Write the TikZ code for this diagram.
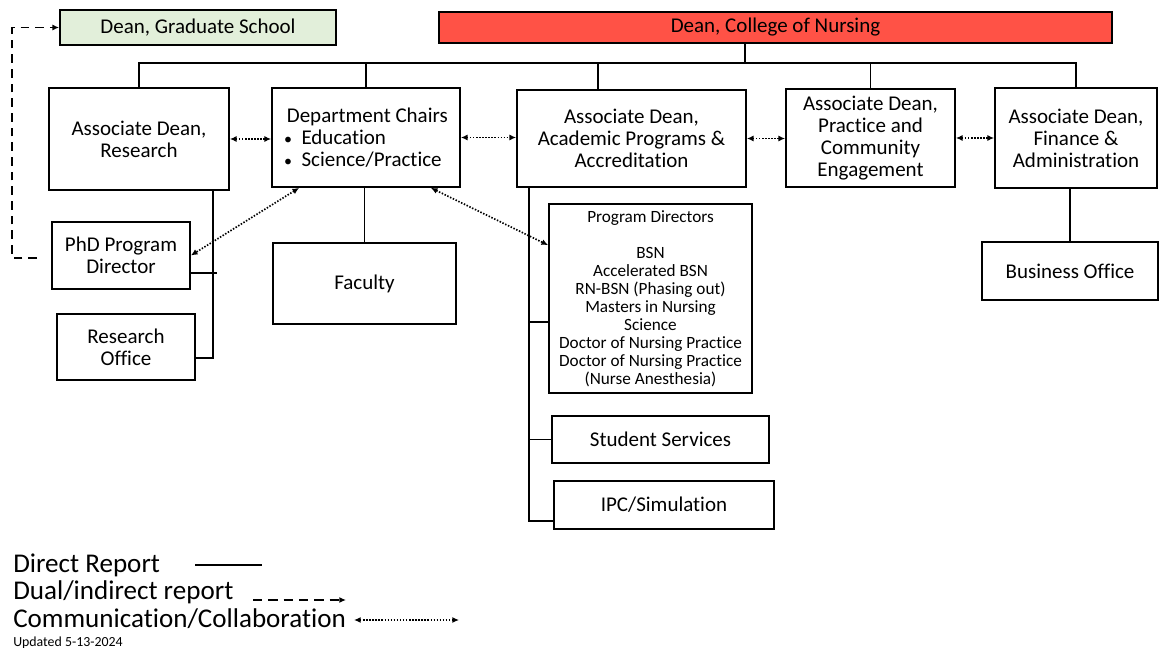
\documentclass[tikz,border=0pt]{standalone}
\usepackage{fontspec}
\setmainfont[Ligatures=NoCommon]{Carlito}
\usetikzlibrary{arrows.meta,positioning}
\definecolor{deanred}{RGB}{255,82,70}
\definecolor{gradgreen}{RGB}{226,239,218}
\newcommand{\chairbullet}{{\fontsize{12}{12}\selectfont\textbullet}\hspace{7pt}}

\begin{document}
\begin{tikzpicture}[
    x=0.75pt, y=-0.75pt,
    unit/.style={draw, line width=1.3pt, align=center, inner sep=2pt, font=\fontsize{15.75}{16.5}\selectfont},
    progbox/.style={unit, font=\fontsize{12.9}{13.5}\selectfont},
    direct/.style={line width=1.3pt},
    indirect/.style={line width=1.3pt, dash pattern=on 6.5pt off 4.5pt, -{Latex[length=5pt,width=4.5pt]}},
    collab/.style={line width=1.25pt, dash pattern=on 1.1pt off 1.2pt, {Latex[length=5pt,width=4.5pt]}-{Latex[length=5pt,width=4.5pt]}},
    legend/.style={anchor=base west, inner sep=0pt, font=\fontsize{20.3}{24}\selectfont}
]
\useasboundingbox (0,0) rectangle (1159,648);

% top level
\node[unit, fill=gradgreen, minimum width=207pt, minimum height=26.25pt] (grad) at (198,27.5) {Dean, Graduate School};
\node[unit, fill=deanred, minimum width=504.75pt, minimum height=23.25pt] (dean) at (775.5,27.5) {Dean, College of Nursing};

% associate deans and chairs
\node[unit, minimum width=135pt, minimum height=76.5pt] (adr) at (139,139) {Associate Dean,\\Research};
\node[unit, align=left, minimum width=141pt, minimum height=74.25pt] (dc) at (366,137.5)
    {\hspace{2pt}Department Chairs\\\chairbullet Education\\\chairbullet Science/Practice};
\node[unit, minimum width=171.75pt, minimum height=72.75pt] (adap) at (631.5,138.5) {Associate Dean,\\Academic Programs \&\\Accreditation};
\node[unit, minimum width=126.75pt, minimum height=73.5pt] (adpce) at (870.5,138) {Associate Dean,\\Practice and\\Community\\Engagement};
\node[unit, minimum width=121.5pt, minimum height=75pt] (adfa) at (1076,138) {Associate Dean,\\Finance \&\\Administration};

% units below
\node[unit, minimum width=103.5pt, minimum height=50.25pt] (phd) at (121,255.5) {PhD Program\\Director};
\node[unit, minimum width=103.5pt, minimum height=49.5pt] (resoff) at (126,347) {Research\\Office};
\node[unit, minimum width=137.25pt, minimum height=60.75pt] (faculty) at (364.5,283.5) {Faculty};
\node[progbox, minimum width=152.25pt, minimum height=141.75pt] (progdir) at (650.5,298.5)
    {Program Directors\\[13.5pt]BSN\\Accelerated BSN\\RN-BSN (Phasing out)\\Masters in Nursing\\Science\\Doctor of Nursing Practice\\Doctor of Nursing Practice\\(Nurse Anesthesia)};
\node[unit, minimum width=162.75pt, minimum height=35.25pt] (stusvc) at (660.5,439.5) {Student Services};
\node[unit, minimum width=165pt, minimum height=36pt] (ipc) at (664,505) {IPC/Simulation};
\node[unit, minimum width=132pt, minimum height=43.5pt] (busoff) at (1070,271) {Business Office};

% direct reports
\coordinate (bus) at (745,63);
\draw[direct] (dean.south -| bus) -- (bus);
\draw[direct] (adr.north) -- (adr.north |- bus) -- (adfa.north |- bus) -- (adfa.north);
\foreach \n in {dc,adpce}
    \draw[direct] (\n.north) -- (\n.north |- bus);
\draw[direct] ([xshift=-25pt]adap.north) -- ++(0,-27);

\coordinate (rjoin) at ([xshift=55.5pt]adr.south);
\draw[direct] (rjoin) |- ([yshift=-8pt]resoff.east);
\draw[direct] ([yshift=-13pt]phd.east) -- ++(26,0);
\draw[direct] (faculty.north) -- (faculty.north |- dc.south);

\coordinate (ajoin) at ([xshift=9.75pt]adap.south west);
\draw[direct] (ajoin) |- ([yshift=-12pt]ipc.west);
\draw[direct] (stusvc.west) -- (stusvc.west -| ajoin);
\draw[direct] ([yshift=-17.6pt]progdir.west) -- ++(-19,0);
\draw[direct] (busoff.north) -- (busoff.north |- adfa.south);

% communication
\draw[collab] (adr.east) -- (adr.east -| dc.west);
\draw[collab] (dc.east) -- (dc.east -| adap.west);
\draw[collab] (adap.east) -- (adap.east -| adpce.west);
\draw[collab] (adpce.east) -- (adpce.east -| adfa.west);
\draw[collab] ([xshift=21pt]dc.south west) -- (phd.east);
\draw[collab] ([xshift=-22.5pt]dc.south east) -- ([yshift=40pt]progdir.west);

% dual report
\coordinate (dstart) at (37,258);
\coordinate (dbend) at (12,258);
\draw[indirect] (dstart) -- (dbend) |- (grad.west);

% legend
\node[legend] (ldirect) at (13,572) {Direct Report};
\node[legend] (ldual) at (13,599) {Dual/indirect report};
\node[legend] (lcomm) at (13,627) {Communication/Collaboration};
\node[anchor=base west, inner sep=0pt, font=\fontsize{10.4}{12}\selectfont] (lupdated) at (13,646) {Updated 5-13-2024};
\coordinate (d1) at (195,565);
\coordinate (d2) at (262,565);
\coordinate (i1) at (253,600);
\coordinate (i2) at (346,600);
\coordinate (c1) at (354,620);
\coordinate (c2) at (459,620);
\draw[direct] (d1) -- (d2);
\draw[indirect, dash pattern=on 7pt off 4.5pt] (i1) -- (i2);
\draw[collab] (c1) -- (c2);
\end{tikzpicture}
\end{document}
